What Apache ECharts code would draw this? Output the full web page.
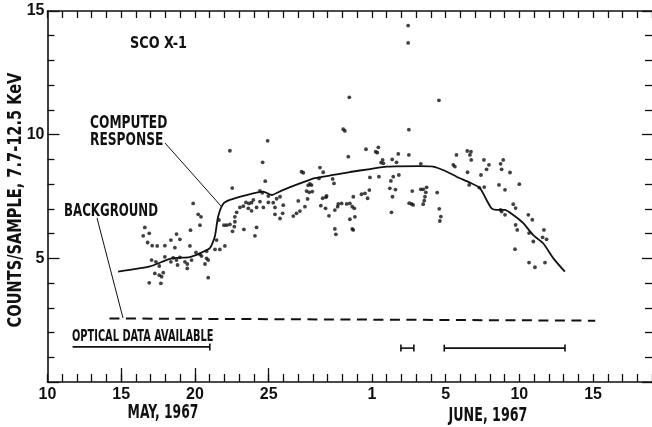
<!DOCTYPE html>
<html>
<head>
<meta charset="utf-8">
<script src="https://cdn.jsdelivr.net/npm/echarts@6/dist/echarts.min.js"></script>
<style>
html,body{margin:0;padding:0;background:#fff;}
#chart{width:652px;height:427px;}
</style>
</head>
<body>
<div id="chart"></div>
<script>
// ---- data (x = day counted from May; June 1 sits at the 32nd tick) ----
const xTickPos = [10, 15, 20, 25, 32, 37, 42, 47];
const xTickText = ['10', '15', '20', '25', '1', '5', '10', '15'];
const xLongTicks = [15, 20, 25];
const yTickPos = [5, 10, 15];

const responseDay = [14.79,16.94,18.41,19.65,20.33,21.01,21.35,21.57,21.91,22.37,23.50,24.63,25.20,25.88,27.12,28.13,29.38,30.51,31.87,33.00,35.26,36.16,36.95,37.75,38.65,39.33,39.78,40.12,40.46,41.02,41.59,42.27,42.94,43.62,44.30,45.09];
const responseCount = [4.46,4.67,5.00,5.05,5.20,5.41,5.88,6.68,7.20,7.36,7.56,7.70,7.56,7.74,8.03,8.24,8.37,8.49,8.61,8.71,8.73,8.71,8.54,8.30,8.06,7.84,7.36,7.02,6.96,6.96,6.75,6.42,5.94,5.61,5.01,4.46];

const backgroundDay = [14.2, 47.15];
const backgroundCount = [2.57, 2.48];

const opticalStart = [11.70, 33.97, 36.91];
const opticalEnd = [21.01, 34.85, 45.10];
const opticalLevel = [1.42, 1.37, 1.37];
const opticalLeftCap = [0, 1, 1];

const samples = [
[16.49,5.91],[16.60,6.25],[16.79,5.64],[16.90,6.01],[16.90,4.01],[17.06,4.93],[17.10,5.51],[17.28,4.39],[17.35,4.86],[17.44,5.50],
[17.58,4.69],[17.58,4.32],[17.69,3.99],[17.74,4.26],[17.85,4.42],[17.96,5.51],[17.96,5.06],[18.37,5.74],[18.37,4.86],[18.53,5.02],
[18.64,5.43],[18.75,5.98],[18.75,4.93],[18.82,4.73],[18.98,5.77],[18.98,5.04],[19.32,4.86],[19.48,4.77],[19.48,4.59],[19.66,5.50],
[19.70,6.14],[19.77,4.93],[19.88,7.22],[20.07,5.24],[20.22,6.78],[20.34,6.34],[20.34,5.16],[20.41,6.68],[20.45,5.09],[20.68,4.77],
[20.79,5.29],[20.79,5.00],[20.90,4.93],[20.90,4.22],[21.36,5.36],[21.47,5.74],[21.63,6.55],[21.69,5.36],[21.97,6.34],[22.03,5.50],
[22.15,6.34],[22.37,6.37],[22.37,9.35],[22.53,7.84],[22.55,6.09],[22.67,6.28],[22.71,6.48],[22.71,6.68],[22.83,6.86],[23.05,7.06],
[23.28,7.11],[23.32,6.17],[23.46,7.26],[23.62,7.02],[23.66,7.22],[23.84,7.25],[23.84,6.92],[23.96,7.36],[24.07,5.91],[24.18,7.06],
[24.18,6.25],[24.41,7.29],[24.41,7.73],[24.57,7.65],[24.59,8.88],[24.64,7.06],[24.77,8.12],[24.93,9.75],[24.98,7.26],[24.98,7.52],
[25.31,7.25],[25.43,7.06],[25.43,6.78],[25.54,7.41],[25.77,7.49],[25.77,6.61],[25.95,6.82],[25.99,7.15],[26.67,6.71],
[30.47,11.51],[30.06,10.22],[30.17,10.15],[31.60,9.41],[32.26,9.31],[32.37,9.27],[32.44,9.49],[30.40,9.11],[32.73,8.98],[32.62,8.87],
[32.78,8.84],[27.23,8.50],[27.35,8.46],[28.48,8.67],[28.70,8.48],[28.41,8.23],[29.34,8.21],[29.43,8.03],[27.80,8.01],[27.68,7.95],
[27.91,7.96],[27.57,7.72],[27.75,7.67],[27.96,7.70],[31.87,8.27],[32.48,8.30],[27.01,7.32],[27.64,7.40],[28.66,7.43],[28.88,7.47],
[28.93,7.52],[27.46,7.09],[27.12,6.91],[26.89,6.82],[28.54,7.13],[28.86,7.02],[29.09,6.72],[29.49,6.95],[29.68,7.09],[29.72,7.20],
[29.95,7.22],[30.29,7.20],[30.51,7.22],[30.74,7.49],[30.67,7.09],[30.81,7.02],[31.30,7.59],[31.53,7.63],[31.71,7.43],[31.83,7.76],
[30.85,6.68],[30.51,6.58],[29.49,6.19],[29.56,5.97],[30.67,6.19],[30.74,6.15],
[34.46,14.41],[34.46,13.71],[36.55,11.39],[34.51,10.20],[34.51,9.18],[33.38,9.00],[33.67,8.88],[33.79,9.22],[35.32,8.82],[33.45,8.30],
[33.83,8.37],[33.29,8.13],[33.22,7.83],[33.60,7.78],[33.40,7.49],[34.74,7.72],[35.32,7.79],[35.48,7.79],[35.71,7.87],[35.66,7.67],
[35.60,7.49],[35.55,7.33],[35.48,7.19],[34.53,7.23],[34.69,7.20],[34.80,7.16],[36.43,7.66],[36.57,7.00],[36.68,6.69],[36.61,6.51],
[33.33,6.86],[37.52,8.78],[37.63,8.71],[37.74,9.18],[38.47,9.34],[38.72,9.31],[38.65,9.18],[38.74,8.98],[38.49,8.48],[38.60,7.97],
[39.28,7.86],
[39.60,8.98],[39.94,8.78],[39.78,8.60],[39.40,8.37],[40.73,8.82],[40.91,8.98],[40.80,8.60],[41.37,8.47],[39.62,7.88],[40.62,7.97],
[41.03,7.77],[42.00,8.00],[41.59,7.19],[41.75,7.03],[40.73,6.96],[40.80,6.89],[41.03,6.76],[42.61,6.76],[42.88,6.56],[41.75,6.35],
[41.86,6.15],[42.66,6.02],[42.95,5.68],[43.67,6.15],[43.58,5.85],[43.85,5.77],[41.71,5.37],[42.66,4.83],[43.06,4.64],[43.74,4.83]
];

// ---- chart ----
const FONT = '"DejaVu Sans Condensed", "DejaVu Sans", sans-serif';
const TICKFONT = '"Liberation Sans", Arial, sans-serif';
const INK = '#111';
const chart = echarts.init(document.getElementById('chart'), null, {renderer: 'canvas'});

const xBase = {type: 'value', min: 10, max: 51, interval: 1, splitLine: {show: false}};
const yBase = {type: 'value', min: 0, max: 15, interval: 5, splitLine: {show: false}};

function label(text, x, y, size, sx, align, extra) {
  return Object.assign({
    type: 'text', x: x, y: y, scaleX: sx, scaleY: 1.1,
    style: {text: text, font: 'bold ' + size + 'px ' + FONT, fill: INK, align: align, verticalAlign: 'middle'}
  }, extra || {});
}

const option = {
  animation: false,
  backgroundColor: '#fff',
  grid: {left: 47.5, right: 0, top: 11, bottom: 45, containLabel: false},
  xAxis: [
    Object.assign({}, xBase, {
      position: 'bottom',
      axisLine: {show: true, lineStyle: {color: INK, width: 1.6}},
      axisTick: {show: true, inside: true, length: 8, lineStyle: {color: INK, width: 1.3}},
      axisLabel: {
        show: true, customValues: xTickPos,
        formatter: v => xTickText[xTickPos.indexOf(v)] || '',
        color: INK, fontFamily: TICKFONT, fontSize: 16, fontWeight: 'bold', margin: 5
      }
    }),
    Object.assign({}, xBase, {
      position: 'bottom',
      axisLine: {show: false},
      axisTick: {show: true, inside: true, length: 14, customValues: xLongTicks, lineStyle: {color: INK, width: 1.3}},
      axisLabel: {show: false}
    }),
    Object.assign({}, xBase, {
      position: 'top',
      axisLine: {show: true, lineStyle: {color: INK, width: 1.6}},
      axisTick: {show: true, inside: true, length: 7, lineStyle: {color: INK, width: 1.3}},
      axisLabel: {show: false}
    })
  ],
  yAxis: [
    Object.assign({}, yBase, {
      position: 'left',
      axisLine: {show: true, lineStyle: {color: INK, width: 1.6}},
      axisTick: {show: true, inside: true, length: 12, lineStyle: {color: INK, width: 1.3}},
      minorTick: {show: true, splitNumber: 5, length: 7, lineStyle: {color: INK, width: 1.3}},
      axisLabel: {
        show: true, customValues: yTickPos,
        color: INK, fontFamily: TICKFONT, fontSize: 16, fontWeight: 'bold', margin: 3
      }
    }),
    Object.assign({}, yBase, {
      position: 'right',
      axisLine: {show: false},
      axisTick: {show: true, inside: true, length: 10, lineStyle: {color: INK, width: 1.3}},
      minorTick: {show: true, splitNumber: 5, length: 7, lineStyle: {color: INK, width: 1.3}},
      axisLabel: {show: false}
    })
  ],
  series: [
    {
      type: 'line', name: 'background', xAxisIndex: 0, yAxisIndex: 0,
      data: backgroundDay.map((d, i) => [d, backgroundCount[i]]),
      symbol: 'none', lineStyle: {color: INK, width: 2, type: [10, 6.5]}
    },
    {
      type: 'custom', name: 'optical', xAxisIndex: 0, yAxisIndex: 0,
      data: opticalStart.map((s, i) => [s, opticalEnd[i], opticalLevel[i], opticalLeftCap[i]]),
      renderItem: function (params, api) {
        const a = api.coord([api.value(0), api.value(2)]);
        const b = api.coord([api.value(1), api.value(2)]);
        const st = {stroke: INK, lineWidth: 1.6};
        const kids = [
          {type: 'line', shape: {x1: a[0], y1: a[1], x2: b[0], y2: b[1]}, style: st},
          {type: 'line', shape: {x1: b[0], y1: b[1] - 3.5, x2: b[0], y2: b[1] + 3.5}, style: st}
        ];
        if (api.value(3)) kids.push({type: 'line', shape: {x1: a[0], y1: a[1] - 3.5, x2: a[0], y2: a[1] + 3.5}, style: st});
        return {type: 'group', children: kids};
      }
    },
    {
      type: 'scatter', name: 'samples', xAxisIndex: 0, yAxisIndex: 0,
      data: samples, symbol: 'circle', symbolSize: 3.8,
      itemStyle: {color: INK}
    },
    {
      type: 'line', name: 'computed', xAxisIndex: 0, yAxisIndex: 0,
      data: responseDay.map((d, i) => [d, responseCount[i]]),
      symbol: 'none', smooth: 0.2, lineStyle: {color: INK, width: 1.8}
    }
  ],
  graphic: [
    label('SCO X-1', 130, 44, 15, 0.95, 'left'),
    label('COMPUTED', 90, 123.5, 16, 0.85, 'left'),
    label('RESPONSE', 90, 140.5, 16, 0.85, 'left'),
    label('BACKGROUND', 64, 211, 16, 0.82, 'left'),
    label('OPTICAL DATA AVAILABLE', 72, 336.5, 14, 0.78, 'left'),
    label('MAY, 1967', 163, 413.5, 17, 0.81, 'center'),
    label('JUNE, 1967', 488, 416.5, 17, 0.83, 'center'),
    label('COUNTS/SAMPLE, 7.7-12.5 KeV', 16, 200, 18, 0.9, 'center', {rotation: Math.PI / 2}),
    {type: 'line', shape: {x1: 165, y1: 143, x2: 221, y2: 206}, style: {stroke: INK, lineWidth: 1}},
    {type: 'line', shape: {x1: 97, y1: 218, x2: 123, y2: 318}, style: {stroke: INK, lineWidth: 1}}
  ]
};
chart.setOption(option);
</script>
</body>
</html>
